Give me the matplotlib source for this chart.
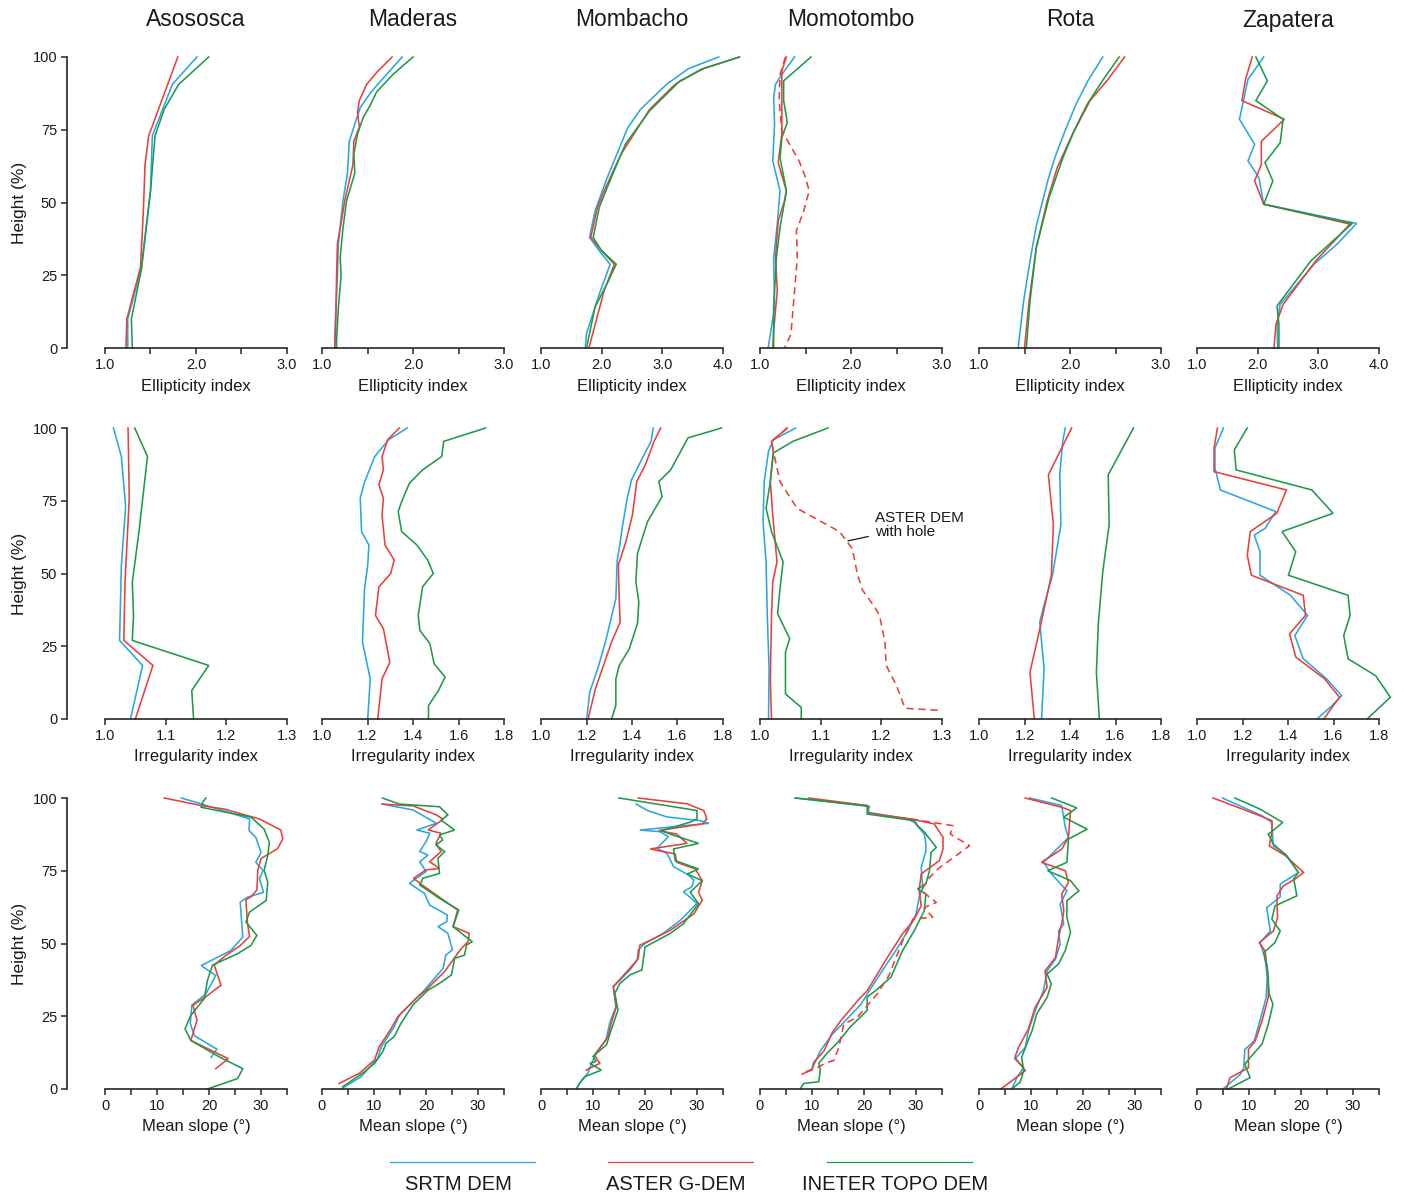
import matplotlib.pyplot as plt
from matplotlib.lines import Line2D

plt.rcParams["font.family"] = ["Liberation Sans", "DejaVu Sans"]

VOLCANOES = ["Asososca", "Maderas", "Mombacho", "Momotombo", "Rota", "Zapatera"]
DEMS = ["srtm", "aster", "topo"]
DEM_LABELS = ["SRTM DEM", "ASTER G-DEM", "INETER TOPO DEM"]
DEM_COLORS = ["#2aa7e1", "#e8403a", "#1f9a48"]

# Profiles are (index value, height %) pairs, read from top to base.

# --- ellipticity index ---
ELL_ASOSOSCA = {
    "srtm": [(2.01, 100), (1.74, 90.6), (1.52, 72.9), (1.50, 54), (1.40, 27.7), (1.25, 10), (1.25, 0)],
    "aster": [(1.80, 100), (1.48, 72.9), (1.44, 63), (1.42, 46), (1.39, 27.7), (1.24, 10), (1.23, 0)],
    "topo": [(2.14, 100), (1.81, 90.6), (1.65, 82), (1.55, 72.9), (1.50, 54), (1.40, 27), (1.29, 10), (1.30, 0)],
}
ELL_MADERAS = {
    "srtm": [(1.88, 100), (1.71, 94), (1.54, 88), (1.42, 82.6), (1.35, 76), (1.30, 71), (1.28, 60),
             (1.23, 50.6), (1.18, 36), (1.17, 25), (1.14, 5), (1.14, 0)],
    "aster": [(1.77, 100), (1.61, 95), (1.49, 90.6), (1.41, 85), (1.39, 81), (1.41, 76), (1.35, 71),
              (1.34, 63), (1.25, 50.6), (1.20, 41), (1.17, 36), (1.16, 25), (1.15, 6), (1.14, 0)],
    "topo": [(2.00, 100), (1.78, 94), (1.60, 88), (1.54, 84), (1.45, 79), (1.39, 73.5), (1.35, 66.6),
             (1.36, 60), (1.27, 50.6), (1.23, 41), (1.20, 31), (1.21, 25), (1.18, 14), (1.16, 2.5), (1.16, 0)],
}
ELL_MOMBACHO = {
    "srtm": [(3.93, 100), (3.43, 96), (3.07, 90.6), (2.64, 82), (2.43, 75.7), (2.25, 66.6), (2.07, 57.4),
             (1.89, 47), (1.80, 38), (1.96, 33.4), (2.14, 28.8), (1.96, 18.5), (1.75, 5), (1.73, 0)],
    "aster": [(4.27, 100), (3.64, 95.8), (3.21, 90.6), (2.79, 82), (2.32, 66.6), (2.04, 54), (1.93, 48.3),
              (1.82, 38), (2.00, 33.4), (2.21, 28.8), (2.04, 19.7), (1.79, 0)],
    "topo": [(4.27, 100), (3.68, 96), (3.29, 91.8), (2.79, 81.5), (2.39, 70), (2.18, 59.7), (1.96, 48.3),
             (1.86, 38), (2.00, 33.4), (2.24, 28.8), (2.11, 23), (1.89, 14), (1.75, 0)],
}
ELL_MOMOTOMBO = {
    "srtm": [(1.38, 100), (1.24, 94), (1.17, 90.6), (1.15, 86), (1.16, 77), (1.14, 64.3), (1.22, 54),
             (1.19, 42.6), (1.15, 31), (1.16, 14), (1.09, 0)],
    "aster": [(1.29, 100), (1.24, 95.2), (1.24, 85), (1.24, 73.5), (1.20, 63.7), (1.29, 54), (1.27, 50.6),
              (1.20, 43.7), (1.17, 31), (1.19, 19.7), (1.15, 6), (1.14, 0)],
    "topo": [(1.56, 100), (1.26, 91.8), (1.26, 85), (1.30, 77.5), (1.24, 72.3), (1.22, 65.4), (1.29, 54),
             (1.22, 41.4), (1.18, 31), (1.15, 14), (1.15, 0)],
}
ELL_MOMOTOMBO_HOLE = [(1.28, 100), (1.22, 94), (1.21, 85), (1.24, 74.6), (1.43, 64.3), (1.50, 58.6),
                      (1.54, 54), (1.48, 47), (1.40, 40.3), (1.41, 31), (1.38, 19.7), (1.34, 4.8), (1.27, 0)]
ELL_ROTA = {
    "srtm": [(2.36, 100), (2.20, 92), (2.07, 84), (1.95, 75), (1.84, 66), (1.76, 58), (1.70, 50.6),
             (1.63, 42), (1.58, 33.4), (1.53, 24), (1.49, 16), (1.43, 0)],
    "aster": [(2.60, 100), (2.41, 92), (2.22, 85), (2.02, 73), (1.86, 62), (1.75, 50.6), (1.63, 34.6),
              (1.55, 16), (1.50, 0)],
    "topo": [(2.54, 100), (2.36, 92), (2.19, 83.8), (2.05, 75), (1.93, 66), (1.84, 58), (1.77, 51.7),
             (1.63, 34.6), (1.56, 16), (1.52, 0)],
}
ELL_ZAPATERA = {
    "srtm": [(2.10, 100), (1.84, 92.3), (1.70, 78.6), (1.95, 70), (1.84, 64.3), (2.02, 58.6), (2.10, 49.4),
             (3.63, 42.8), (3.31, 35.7), (2.93, 28.8), (2.37, 15), (2.32, 8), (2.33, 0)],
    "aster": [(1.91, 100), (1.80, 92.3), (1.74, 85), (2.44, 78.6), (2.06, 71), (2.06, 63), (1.95, 57.4),
              (2.10, 49.4), (3.52, 42.6), (2.96, 30), (2.42, 15), (2.30, 8), (2.27, 0)],
    "topo": [(1.97, 100), (2.16, 91.8), (1.97, 85), (2.42, 78.6), (2.37, 70.5), (2.12, 63.7), (2.25, 57.4),
             (2.10, 49.4), (3.56, 42.8), (3.24, 36.8), (2.88, 30), (2.32, 14.5), (2.35, 8), (2.35, 0)],
}

# --- irregularity index ---
IRR_ASOSOSCA = {
    "srtm": [(1.014, 100), (1.027, 90.2), (1.034, 73), (1.027, 52.9), (1.024, 27), (1.062, 18.4), (1.042, 0)],
    "aster": [(1.038, 100), (1.040, 75.9), (1.033, 47), (1.031, 27), (1.079, 18.4), (1.050, 0)],
    "topo": [(1.049, 100), (1.070, 90.2), (1.056, 64.4), (1.045, 47), (1.047, 35.6), (1.045, 27),
             (1.171, 18.4), (1.143, 9.8), (1.146, 0)],
}
IRR_MADERAS = {
    "srtm": [(1.375, 100), (1.293, 96), (1.232, 90.2), (1.188, 81.6), (1.168, 75.9), (1.174, 64.4),
             (1.206, 59.8), (1.201, 52.9), (1.187, 44.8), (1.178, 26.4), (1.212, 13.8), (1.201, 0)],
    "aster": [(1.340, 100), (1.289, 96), (1.264, 90.2), (1.270, 85.6), (1.250, 80.5), (1.270, 75.9),
              (1.264, 70.1), (1.277, 59.8), (1.317, 54.6), (1.302, 50), (1.250, 45.4), (1.235, 35.6),
              (1.270, 31), (1.298, 19.5), (1.264, 13.8), (1.245, 0)],
    "topo": [(1.719, 100), (1.535, 95.4), (1.526, 90.2), (1.442, 85.6), (1.384, 81), (1.350, 74.7),
             (1.335, 71.3), (1.350, 64.4), (1.417, 59.8), (1.465, 54.6), (1.489, 50), (1.442, 45.4),
             (1.423, 35.6), (1.430, 30.5), (1.474, 25.9), (1.493, 19), (1.541, 14.4), (1.512, 9.8),
             (1.468, 4.6), (1.468, 0)],
}
IRR_MOMBACHO = {
    "srtm": [(1.493, 100), (1.484, 95.4), (1.449, 90.2), (1.398, 82.2), (1.379, 75.9), (1.359, 66.7),
             (1.344, 58.6), (1.335, 54.6), (1.329, 41.4), (1.283, 26.4), (1.249, 17.2), (1.214, 9.2), (1.201, 0)],
    "aster": [(1.526, 100), (1.497, 95.4), (1.459, 87.4), (1.421, 81.6), (1.402, 70.1), (1.373, 60.9),
              (1.340, 52.9), (1.344, 40.2), (1.348, 33.3), (1.310, 26.4), (1.239, 10.3), (1.207, 0)],
    "topo": [(1.793, 100), (1.646, 96.6), (1.570, 85.6), (1.518, 81.6), (1.532, 76.4), (1.468, 67.8),
             (1.424, 56.9), (1.417, 47.1), (1.430, 40.2), (1.424, 32.8), (1.388, 24.1), (1.344, 18.4),
             (1.329, 13.8), (1.329, 4.6), (1.310, 0)],
}
IRR_MOMOTOMBO = {
    "srtm": [(1.059, 100), (1.022, 96), (1.014, 92), (1.007, 81.6), (1.005, 67.8), (1.010, 54),
             (1.012, 35.6), (1.015, 17.2), (1.014, 0)],
    "aster": [(1.045, 100), (1.019, 95.4), (1.022, 92), (1.017, 81.6), (1.021, 70.1), (1.028, 54),
              (1.021, 47.1), (1.019, 35.6), (1.017, 13.8), (1.019, 0)],
    "topo": [(1.112, 100), (1.054, 95.4), (1.022, 91.4), (1.017, 81.6), (1.010, 72.4), (1.019, 64.4),
             (1.038, 54), (1.033, 44.8), (1.029, 36.2), (1.049, 27.6), (1.042, 23), (1.042, 8.6),
             (1.068, 4), (1.068, 0)],
}
IRR_MOMOTOMBO_HOLE = [(1.045, 100), (1.019, 95.4), (1.022, 92), (1.033, 81.6), (1.061, 72.4), (1.096, 68.4),
                      (1.131, 64.4), (1.152, 58.6), (1.161, 49.4), (1.169, 44.3), (1.189, 38.5), (1.197, 35.6),
                      (1.206, 26.4), (1.208, 18.4), (1.225, 11.5), (1.239, 3.7), (1.299, 2.9)]
IRR_ROTA = {
    "srtm": [(1.379, 100), (1.368, 95.4), (1.355, 83.9), (1.360, 66.7), (1.323, 49.4), (1.286, 39.1),
             (1.267, 33.3), (1.286, 17.2), (1.275, 0)],
    "aster": [(1.407, 100), (1.305, 83.9), (1.327, 66.7), (1.318, 49.4), (1.271, 32.2), (1.224, 16.1), (1.243, 0)],
    "topo": [(1.679, 100), (1.568, 83.9), (1.572, 66.7), (1.544, 50.6), (1.525, 33.3), (1.516, 16.1), (1.529, 0)],
}
IRR_ZAPATERA = {
    "srtm": [(1.116, 100), (1.079, 93.1), (1.079, 86.2), (1.103, 78.7), (1.346, 71.3), (1.299, 65.5),
             (1.252, 63.2), (1.277, 57.5), (1.277, 49.4), (1.411, 42.5), (1.486, 35.6), (1.430, 28.7),
             (1.467, 20.7), (1.570, 13.8), (1.636, 8), (1.594, 4.6), (1.527, 0)],
    "aster": [(1.090, 100), (1.075, 93.1), (1.075, 85), (1.393, 78.7), (1.351, 70.7), (1.234, 64.4),
              (1.221, 56.3), (1.239, 49.4), (1.467, 42.5), (1.477, 35.6), (1.407, 29.3), (1.434, 21.3),
              (1.561, 13.8), (1.626, 7.5), (1.557, 0)],
    "topo": [(1.221, 100), (1.164, 92.5), (1.172, 85.6), (1.505, 78.7), (1.598, 70.7), (1.374, 64.4),
             (1.434, 57.5), (1.402, 49.4), (1.664, 42.5), (1.673, 35.6), (1.645, 28.7), (1.664, 20.7),
             (1.785, 14.9), (1.850, 7.5), (1.748, 0)],
}

# --- mean slope (degrees) ---
SLP_ASOSOSCA = {
    "srtm": [(14.7, 100), (18.5, 98), (21.7, 96.2), (27.8, 92.8), (27.7, 88.8), (29.0, 86.5), (30.0, 81.3),
             (29.0, 77.9), (30.4, 75.1), (29.7, 72.2), (30.5, 67.6), (27.4, 65.9), (26.0, 64.2), (26.5, 52.2),
             (24.2, 47.6), (18.5, 42.4), (21.3, 39), (19.4, 32.7), (16.7, 28.8), (16.4, 22.5), (17.2, 18.3),
             (21.5, 13.7), (20.4, 10.8)],
    "aster": [(11.4, 100), (18.5, 97.4), (22.9, 96.2), (29.7, 92.8), (33.8, 89), (34.2, 86), (33.2, 82.6),
              (30.0, 79.2), (29.4, 75.3), (29.2, 68.4), (28.1, 66.1), (27.1, 65), (27.4, 57), (27.8, 52.4),
              (25.8, 49), (23.3, 46), (21.0, 42.6), (22.3, 35.7), (19.4, 31.7), (16.9, 28.8), (17.7, 23.6),
              (16.5, 16.7), (23.7, 10.4), (21.3, 7)],
    "topo": [(19.4, 100), (18.8, 98.5), (18.5, 96.8), (28.1, 93.4), (30.6, 89.3), (31.6, 84.8), (31.3, 80.2),
             (30.6, 75.1), (31.3, 71.1), (31.0, 64.8), (27.8, 60.8), (27.1, 57.4), (29.2, 52.8), (28.1, 49.4),
             (25.5, 46.5), (20.7, 42.6), (19.7, 37.3), (19.1, 31.1), (16.5, 25.3), (15.4, 20.7), (16.5, 16.7),
             (22.0, 11), (26.5, 7), (25.5, 3.6), (19.7, 0)],
}
SLP_MADERAS = {
    "srtm": [(11.6, 97.9), (17.5, 95.9), (22.0, 91.3), (18.2, 89.0), (20.7, 87.9), (20.2, 85.6), (18.8, 81.6),
             (20.4, 80.4), (18.8, 78.1), (20.0, 74.7), (16.8, 70.7), (19.7, 67.2), (20.7, 63.2), (24.1, 59.8),
             (24.0, 57.5), (22.3, 55.8), (24.2, 53.5), (25.1, 47.8), (23.8, 46.0), (23.3, 41.5), (19.7, 34.0),
             (17.5, 30.0), (14.9, 25.4), (13.9, 21.4), (11.4, 14.5), (10.7, 10.5), (7.5, 4.2), (3.7, 0)],
    "aster": [(11.6, 97.9), (17.5, 97.3), (22.0, 94.2), (23.3, 92.7), (20.4, 89.0), (22.9, 87.9), (21.9, 84.4),
              (22.9, 81.6), (20.7, 78.1), (22.6, 75.8), (20.0, 75.3), (17.6, 72.4), (18.8, 70.7), (23.3, 65.0),
              (26.1, 61.5), (25.2, 55.8), (28.3, 53.5), (28.1, 50.6), (26.8, 48.3), (25.2, 44.4), (23.6, 40.4),
              (20.0, 34.0), (18.1, 31.2), (14.6, 24.9), (13.3, 20.8), (11.0, 14.5), (10.1, 10.0), (7.2, 5.4),
              (3.3, 1.9)],
    "topo": [(11.6, 100), (14.9, 97.9), (22.6, 97.0), (24.2, 94.2), (22.9, 92.4), (25.5, 89.0), (22.6, 87.3),
             (23.2, 85.6), (21.9, 83.8), (23.6, 81.6), (22.3, 79.3), (22.6, 74.1), (19.4, 72.4), (18.8, 70.1),
             (22.6, 65.5), (26.3, 61.5), (25.2, 55.8), (28.9, 50.6), (27.8, 49.5), (27.4, 46.0), (25.5, 44.9),
             (24.9, 39.2), (22.6, 36.3), (20.4, 34.0), (17.5, 28.9), (15.2, 22.6), (13.9, 18.0), (12.3, 15.7),
             (11.7, 12.8), (10.1, 8.8), (7.8, 5.4), (4.0, 0.8)],
}
SLP_MOMBACHO = {
    "srtm": [(18.3, 97.9), (20.6, 95.6), (24.2, 93.5), (30.6, 92.2), (32.3, 91.3), (19.0, 89.0), (22.9, 88.4),
             (24.5, 86.7), (22.3, 82.7), (24.2, 81.0), (25.5, 76.4), (28.4, 73.5), (29.4, 71.8), (29.0, 69.5),
             (27.4, 67.8), (30.0, 63.8), (26.8, 58.0), (23.5, 53.5), (20.0, 50.0), (18.7, 47.8), (18.5, 44.3),
             (17.1, 40.9), (15.2, 37.4), (13.9, 35.2), (14.4, 28.3), (13.2, 22.6), (12.5, 16.8), (10.6, 12.3),
             (9.7, 8.8), (9.0, 5.4), (7.4, 1.9), (6.8, 0)],
    "aster": [(18.7, 100), (28.1, 98.0), (31.3, 95.7), (31.9, 92.8), (31.0, 91.1), (22.6, 88.8), (26.1, 87.6),
              (28.1, 84.4), (21.0, 82.5), (22.6, 81.9), (25.8, 80.8), (26.1, 77.9), (29.7, 75.6), (31.0, 71.6),
              (30.3, 67.6), (31.0, 64.8), (29.4, 60.2), (24.8, 54.5), (21.6, 51.6), (19.0, 49.4), (18.7, 44.8),
              (16.8, 40.9), (13.9, 35.2), (14.5, 28.3), (13.5, 22.6), (12.9, 18.0), (10.3, 11.7), (11.3, 8.8),
              (8.7, 6.5)],
    "topo": [(15.0, 100), (30.0, 95.7), (30.0, 92.8), (28.7, 91.7), (23.2, 88.8), (24.8, 87.6), (30.3, 84.4),
             (25.5, 82.5), (25.8, 78.5), (30.3, 75.6), (28.1, 73.9), (31.0, 71.6), (28.7, 67.6), (30.3, 63.7),
             (27.4, 56.8), (24.8, 53.4), (20.0, 48.8), (19.4, 40.9), (17.1, 39.2), (15.2, 36.3), (14.2, 32.9),
             (14.8, 27.1), (13.5, 20.3), (12.6, 15.2), (10.0, 11.2), (10.6, 9.5), (9.4, 8.8), (11.6, 6.5),
             (8.4, 4.2), (7.4, 1.9), (6.8, 0)],
}
SLP_MOMOTOMBO = {
    "srtm": [(6.8, 100), (20.6, 97.4), (20.6, 95.1), (28.4, 92.8), (29.7, 91.6), (31.6, 87.6), (31.9, 84.1),
             (31.9, 81.8), (31.0, 76.1), (31.3, 69.2), (30.6, 65.8), (30.0, 60.0), (28.4, 54.3), (26.5, 48.6),
             (23.9, 41.7), (21.0, 33.7), (19.4, 29.1), (15.8, 22.3), (13.9, 18.8), (11.6, 13.1), (10.0, 6.8),
             (9.0, 6.0)],
    "aster": [(9.4, 100), (20.6, 97.4), (21.0, 94.8), (29.0, 92.8), (33.5, 91.1), (35.2, 86.5), (35.2, 82.5),
              (34.5, 78.5), (31.0, 73.9), (30.6, 68.2), (31.0, 63.0), (29.7, 58.4), (27.4, 53.3), (24.5, 45.2),
              (20.6, 33.7), (19.0, 30.8), (15.5, 23.4), (13.9, 19.4), (12.3, 13.1), (10.3, 9.1), (10.0, 6.8),
              (8.1, 5.1)],
    "topo": [(6.8, 100), (21.0, 97.1), (20.6, 94.5), (29.7, 92.2), (30.3, 90.5), (31.6, 88.3), (33.9, 83.0),
             (32.9, 81.3), (32.6, 75.0), (31.9, 70.5), (30.3, 68.8), (31.9, 67.0), (31.6, 61.3), (29.7, 54.5),
             (27.4, 47.5), (25.2, 38.5), (22.3, 33.9), (20.6, 31.6), (20.6, 27.0), (17.4, 21.4), (14.8, 15.7),
             (12.9, 12.3), (11.3, 8.8), (11.6, 6.5), (11.3, 2.5), (8.4, 1.9), (7.7, 0)],
}
SLP_MOMOTOMBO_HOLE = [(29.0, 92.8), (37.1, 90.5), (36.6, 87.6), (40.3, 83.6), (34.2, 75.6), (32.6, 72.7),
                      (31.0, 68.2), (33.9, 64.1), (31.6, 62.4), (33.2, 59.0), (29.4, 58.4), (27.7, 52.1),
                      (24.8, 39.0), (22.6, 32.8), (18.7, 24.6), (16.1, 22.3), (15.2, 14.5), (14.2, 9.8),
                      (12.9, 9.1), (11.0, 7.4), (8.1, 5.1)]
SLP_ROTA = {
    "srtm": [(9.8, 100), (15.9, 97.4), (16.6, 89.9), (17.2, 86.4), (12.4, 77.9), (14.0, 73.8), (16.9, 68.1),
             (15.6, 63.5), (16.3, 56.7), (15.3, 54.4), (15.6, 49.8), (14.7, 44.6), (13.1, 40.6), (12.4, 33.8),
             (10.8, 26.9), (9.5, 20.0), (8.9, 14.3), (6.9, 10.3), (8.6, 7.4), (7.3, 4.0), (6.3, 0)],
    "aster": [(8.9, 100), (15.9, 96.8), (17.6, 95.7), (17.2, 86.4), (15.9, 82.4), (12.0, 77.9), (16.6, 75.0),
              (17.2, 71.0), (15.9, 67.0), (16.3, 61.3), (15.9, 56.7), (15.3, 52.1), (14.7, 45.2), (12.7, 40.6),
              (13.1, 34.9), (10.8, 28.1), (9.5, 20.6), (7.6, 14.3), (6.9, 10.9), (8.9, 6.3), (4.2, 0)],
    "topo": [(14.0, 100), (18.8, 96.6), (16.3, 93.4), (20.8, 89.3), (17.2, 85.9), (16.9, 77.9), (13.2, 75.0),
             (17.6, 71.6), (19.2, 68.1), (16.9, 64.7), (16.9, 59.0), (17.6, 53.8), (16.6, 47.6), (15.3, 43.0),
             (13.1, 39.5), (13.9, 36.1), (13.1, 31.5), (11.1, 25.8), (10.2, 20.0), (9.2, 15.5), (8.2, 10.9),
             (8.6, 6.3), (7.9, 2.3), (6.3, 0)],
}
SLP_ZAPATERA = {
    "srtm": [(4.9, 100), (12.5, 93.9), (14.4, 91.6), (14.6, 85.3), (14.7, 83.5), (17.0, 80.7), (19.5, 74.4),
             (16.0, 70.4), (16.0, 66.0), (13.4, 62.3), (14.1, 54.3), (12.1, 50.3), (13.1, 45.2), (13.5, 38.3),
             (13.3, 31.4), (12.1, 23.4), (11.0, 16.5), (9.2, 13.6), (9.0, 7.3), (8.3, 5.0), (5.0, 0)],
    "aster": [(3.1, 100), (12.1, 93.9), (14.4, 92.2), (14.4, 88.2), (13.9, 83.5), (17.0, 80.2), (20.5, 74.4),
              (18.9, 72.2), (16.6, 69.8), (15.4, 66.4), (15.4, 62.9), (15.5, 58.9), (14.7, 54.3), (12.0, 50.3),
              (13.1, 47.4), (13.7, 38.3), (13.7, 31.4), (12.5, 23.4), (11.2, 16.5), (9.9, 13.6), (9.9, 7.3),
              (6.3, 3.8), (5.7, 0)],
    "topo": [(7.3, 100), (12.1, 96.2), (16.5, 91.6), (14.6, 88.8), (13.7, 87.6), (14.7, 84.1), (17.3, 80.1),
             (19.5, 74.4), (18.6, 72.2), (19.2, 66.4), (15.0, 62.9), (14.4, 58.4), (16.0, 54.3), (15.0, 50.3),
             (12.8, 46.8), (13.5, 41.7), (13.9, 32.5), (14.6, 29.1), (13.7, 22.2), (12.5, 15.4), (10.2, 10.8),
             (9.2, 8.5), (10.2, 3.9), (6.0, 0)],
}

ROWS = [
    ("Ellipticity index",
     [ELL_ASOSOSCA, ELL_MADERAS, ELL_MOMBACHO, ELL_MOMOTOMBO, ELL_ROTA, ELL_ZAPATERA]),
    ("Irregularity index",
     [IRR_ASOSOSCA, IRR_MADERAS, IRR_MOMBACHO, IRR_MOMOTOMBO, IRR_ROTA, IRR_ZAPATERA]),
    ("Mean slope (°)",
     [SLP_ASOSOSCA, SLP_MADERAS, SLP_MOMBACHO, SLP_MOMOTOMBO, SLP_ROTA, SLP_ZAPATERA]),
]
HOLE_PROFILES = [ELL_MOMOTOMBO_HOLE, IRR_MOMOTOMBO_HOLE, SLP_MOMOTOMBO_HOLE]

ELL_TICKS_3 = [1.0, 1.5, 2.0, 2.5, 3.0]
ELL_TICKS_4 = [1.0, 2.0, 3.0, 4.0]
IRR_TICKS_13 = [1.0, 1.1, 1.2, 1.3]
IRR_TICKS_18 = [1.0, 1.2, 1.4, 1.6, 1.8]
SLP_TICKS = [0, 5, 10, 15, 20, 25, 30, 35]
HEIGHT_TICKS = [0, 25, 50, 75, 100]


def x_ticks(row, col):
    if row == 0:
        return ELL_TICKS_4 if col in (2, 5) else ELL_TICKS_3
    if row == 1:
        return IRR_TICKS_13 if col in (0, 3) else IRR_TICKS_18
    return SLP_TICKS


def tick_label(row, v):
    if row == 0:
        return f"{v:.1f}" if float(v).is_integer() else ""
    if row == 1:
        return f"{v:.1f}"
    return f"{v:d}" if v % 10 == 0 else ""


W, H = 1404, 1196
AX_LEFT = [105, 322, 541, 760, 979, 1197]
AX_TOP = [57, 428, 798]
AX_W, AX_H = 182, 291
AXIS_COLOR = "#262626"

fig = plt.figure(figsize=(W / 100, H / 100), dpi=100)

for r, (xlabel, panels) in enumerate(ROWS):
    for c, profiles in enumerate(panels):
        ax = fig.add_axes([AX_LEFT[c] / W, 1 - (AX_TOP[r] + AX_H) / H, AX_W / W, AX_H / H])
        ticks = x_ticks(r, c)

        for key, color in zip(DEMS, DEM_COLORS):
            vals = [p[0] for p in profiles[key]]
            hts = [p[1] for p in profiles[key]]
            ax.plot(vals, hts, color=color, lw=1.15, clip_on=False, solid_joinstyle="miter")

        if c == 3:
            hole = HOLE_PROFILES[r]
            ax.plot([p[0] for p in hole], [p[1] for p in hole], color=DEM_COLORS[1], lw=1.15,
                    ls=(0, (4.5, 3)), clip_on=False)

        ax.set_xlim(ticks[0], ticks[-1])
        ax.set_ylim(0, 100)
        ax.set_xticks(ticks)
        ax.set_xticklabels([tick_label(r, t) for t in ticks])
        for side in ("top", "right"):
            ax.spines[side].set_visible(False)
        ax.spines["bottom"].set_bounds(ticks[0], ticks[-1])
        ax.spines["bottom"].set_color(AXIS_COLOR)
        ax.spines["bottom"].set_linewidth(1.2)
        ax.tick_params(axis="x", length=4, width=1.1, color=AXIS_COLOR, pad=3.5,
                       labelsize=10.5, labelcolor="#1a1a1a")

        if c == 0:
            ax.spines["left"].set_position(("outward", 27.4))
            ax.spines["left"].set_bounds(0, 100)
            ax.spines["left"].set_color(AXIS_COLOR)
            ax.spines["left"].set_linewidth(1.2)
            ax.set_yticks(HEIGHT_TICKS)
            ax.tick_params(axis="y", length=4, width=1.1, color=AXIS_COLOR, pad=3,
                           labelsize=10.5, labelcolor="#1a1a1a")
            ax.set_ylabel("Height (%)", fontsize=12.5, color="#1a1a1a")
            ax.yaxis.set_label_coords(-0.43, 0.5)
        else:
            ax.spines["left"].set_visible(False)
            ax.set_yticks([])

        ax.set_xlabel(xlabel, fontsize=12, color="#1a1a1a")
        ax.xaxis.set_label_coords(0.5, -38 / AX_H)
        ax.xaxis.label.set_verticalalignment("center")

        if r == 1 and c == 3:
            ax.annotate("ASTER DEM\nwith hole", xy=(1.145, 61.2), xytext=(1.19, 66.6),
                        fontsize=11, ha="left", va="center", linespacing=1.05, color="#1a1a1a",
                        arrowprops=dict(arrowstyle="-", color="#1a1a1a", lw=0.9,
                                        shrinkA=3, shrinkB=0))

        if r == 0:
            fig.text((AX_LEFT[c] + AX_W / 2) / W, 1 - 20 / H, VOLCANOES[c],
                     fontsize=16.5, ha="center", va="center", color="#1a1a1a")

# legend: short line over each DEM name
for x0, label, color in zip([390, 608, 827], DEM_LABELS, DEM_COLORS):
    fig.add_artist(Line2D([x0 / W, (x0 + 145) / W], [1 - 1162 / H, 1 - 1162 / H],
                          color=color, lw=0.9, transform=fig.transFigure))
    fig.text((x0 + 68) / W, 1 - 1185 / H, label, fontsize=14.5, ha="center", va="center",
             color="#1a1a1a")

fig.savefig("out.png", dpi=100)
